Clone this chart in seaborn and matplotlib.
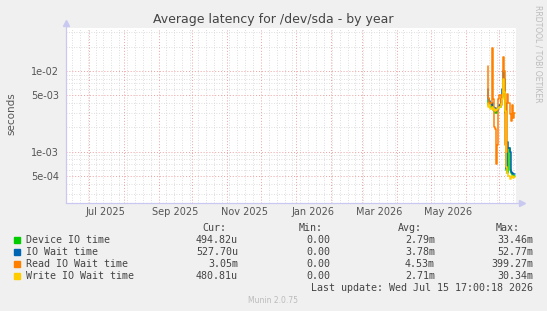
import numpy as np
import pandas as pd
import matplotlib
matplotlib.use("Agg")
import matplotlib.pyplot as plt
import matplotlib.dates as mdates
from matplotlib.patches import Rectangle
import seaborn as sns

# daily samples (seconds); each value covers the day ending at its timestamp
days = pd.date_range("2026-06-21", "2026-07-15", freq="D")
device_io = [4.3e-3, 3.8e-3, 4.0e-3, 3.6e-3, 3.7e-3, 3.3e-3, 3.2e-3, 3.0e-3, 3.0e-3,
             3.2e-3, 3.5e-3, 3.6e-3, 4.0e-3, 4.8e-3, 6.5e-3, 5.0e-3, 3.0e-3, 6.0e-4,
             5.5e-4, 1.1e-3, 6.0e-4, 5.4e-4, 5.2e-4, 5.0e-4, 4.95e-4]
io_wait = [6.0e-3, 4.5e-3, 4.2e-3, 3.8e-3, 4.0e-3, 3.6e-3, 3.4e-3, 3.5e-3, 3.2e-3,
           3.3e-3, 3.6e-3, 3.8e-3, 4.5e-3, 6.0e-3, 1.0e-2, 8.0e-3, 4.0e-3, 6.2e-4,
           1.3e-3, 1.1e-3, 1.0e-3, 5.6e-4, 5.5e-4, 5.3e-4, 5.28e-4]
read_wait = [1.15e-2, 4.6e-3, 3.8e-3, 4.0e-3, 1.9e-2, 4.5e-3, 2.0e-3, 1.9e-3, 7.0e-4,
             1.2e-3, 4.5e-3, 5.0e-3, 3.8e-3, 5.0e-3, 1.5e-2, 1.0e-2, 1.2e-3, 1.0e-3,
             5.2e-3, 4.0e-3, 2.9e-3, 2.4e-3, 3.8e-3, 2.6e-3, 3.05e-3]
write_wait = [4.0e-3, 3.6e-3, 3.8e-3, 3.4e-3, 3.6e-3, 3.3e-3, 3.4e-3, 3.2e-3, 3.3e-3,
              3.4e-3, 3.5e-3, 3.6e-3, 3.9e-3, 4.5e-3, 8.0e-3, 5.5e-3, 3.2e-3, 6.5e-4,
              5.5e-4, 5.0e-4, 4.6e-4, 4.8e-4, 5.0e-4, 4.7e-4, 4.81e-4]

series = ["Device IO time", "IO Wait time", "Read IO Wait time", "Write IO Wait time"]
colors = ["#00CC00", "#0066B3", "#FF8000", "#FFCC00"]
cur = ["494.82u", "527.70u", "3.05m", "480.81u"]
mins = ["0.00", "0.00", "0.00", "0.00"]
avg = ["2.79m", "3.78m", "4.53m", "2.71m"]
mx = ["33.46m", "52.77m", "399.27m", "30.34m"]

month_labels = ["Jul 2025", "Sep 2025", "Nov 2025", "Jan 2026", "Mar 2026", "May 2026"]
month_label_pos = ["2025-07-16", "2025-09-16", "2025-11-16", "2026-01-16", "2026-03-16", "2026-05-16"]
ytick_vals = [5e-4, 1e-3, 5e-3, 1e-2]
ytick_labels = ["5e-04", "1e-03", "5e-03", "1e-02"]

df = pd.DataFrame({
    "time": list(days) * 4,
    "value": device_io + io_wait + read_wait + write_wait,
    "series": np.repeat(series, len(days)),
})

sns.set_style("white")
plt.rcParams["font.family"] = ["DejaVu Sans"]

W, H = 547, 311
fig = plt.figure(figsize=(5.47, 3.11), dpi=100, facecolor="#F0F0F0")
ax = fig.add_axes([66 / W, 1 - 203 / H, 450 / W, 175 / H])
ax.set_facecolor("white")

end = pd.Timestamp("2026-07-15 17:00")
start = end - pd.Timedelta(days=400)

ax.set_yscale("log")
ax.set_xlim(start, end)
ax.set_ylim(2.31e-4, 0.034)

# grid: weekly / minor-log gray dots, monthly / labelled red dashes
ax.xaxis.set_major_locator(mdates.MonthLocator(bymonthday=1))
ax.xaxis.set_minor_locator(mdates.WeekdayLocator(byweekday=mdates.MO))
ax.set_xticklabels([])
ax.yaxis.set_major_locator(matplotlib.ticker.FixedLocator(ytick_vals))
minor_y = [m * 10.0 ** e for e in (-4, -3, -2) for m in range(2, 10)]
minor_y = [v for v in minor_y if v not in ytick_vals and 2.31e-4 < v < 0.034]
ax.yaxis.set_minor_locator(matplotlib.ticker.FixedLocator(minor_y))
ax.yaxis.set_minor_formatter(matplotlib.ticker.NullFormatter())
ax.set_yticklabels(ytick_labels)
ax.grid(which="minor", color="#D4D4D4", linestyle=(0, (1, 2)), linewidth=0.6)
ax.grid(which="major", color="#EFA0A0", linestyle=(0, (1, 2)), linewidth=0.7)
ax.tick_params(axis="x", which="both", length=0)
ax.tick_params(axis="y", which="major", length=3, color="#C8C8F0", labelsize=7,
               labelcolor="#555555", pad=2)
ax.tick_params(axis="y", which="minor", length=2, color="#C8C8F0")

sns.lineplot(data=df, x="time", y="value", hue="series", palette=colors,
             drawstyle="steps-pre", linewidth=1.1, legend=False, ax=ax)
ax.set_xlabel("")
ax.set_ylabel("")
fig.text(11 / W, 1 - 114 / H, "seconds", rotation=90, ha="center", va="center",
         fontsize=7.5, color="#555555")

for lab, pos in zip(month_labels, month_label_pos):
    ax.text(pd.Timestamp(pos), -0.05, lab, transform=ax.get_xaxis_transform(),
            ha="center", va="center", fontsize=7, color="#555555")

for s in ["top", "right"]:
    ax.spines[s].set_visible(False)
for s in ["left", "bottom"]:
    ax.spines[s].set_color("#C8C8F0")
ax.plot([0, 0], [0, 1.03], transform=ax.transAxes, color="#C8C8F0", lw=0.8, clip_on=False)
ax.plot([0], [1.03], marker="^", ms=4, color="#C8C8F0", transform=ax.transAxes, clip_on=False)
ax.plot([0, 1.013], [0, 0], transform=ax.transAxes, color="#C8C8F0", lw=0.8, clip_on=False)
ax.plot([1.013], [0], marker=">", ms=4, color="#C8C8F0", transform=ax.transAxes, clip_on=False)

fig.text(273 / W, 1 - 19.5 / H, "Average latency for /dev/sda - by year",
         ha="center", va="center", fontsize=9, color="#444444")
fig.text(538 / W, 1 - 5 / H, "RRDTOOL / TOBI OETIKER", rotation=270,
         ha="center", va="top", fontsize=5.5, color="#BBBBBB")

mono = {"family": "DejaVu Sans Mono", "size": 7.2, "color": "#444444"}
hy = 228.3
fig.text(226 / W, 1 - hy / H, "Cur:", ha="right", va="center", **mono)
fig.text(323 / W, 1 - hy / H, "Min:", ha="right", va="center", **mono)
fig.text(422 / W, 1 - hy / H, "Avg:", ha="right", va="center", **mono)
fig.text(520 / W, 1 - hy / H, "Max:", ha="right", va="center", **mono)
for i, name in enumerate(series):
    y = 239.7 + i * 12
    fig.patches.append(Rectangle((14 / W, 1 - (y + 3) / H), 6 / W, 6 / H,
                                 transform=fig.transFigure, color=colors[i]))
    fig.text(26 / W, 1 - y / H, name, ha="left", va="center", **mono)
    fig.text(238 / W, 1 - y / H, cur[i], ha="right", va="center", **mono)
    fig.text(330 / W, 1 - y / H, mins[i], ha="right", va="center", **mono)
    fig.text(435 / W, 1 - y / H, avg[i], ha="right", va="center", **mono)
    fig.text(533 / W, 1 - y / H, mx[i], ha="right", va="center", **mono)
fig.text(533 / W, 1 - 287.7 / H, "Last update: Wed Jul 15 17:00:18 2026",
         ha="right", va="center", **mono)
fig.text(273 / W, 1 - 300.3 / H, "Munin 2.0.75", ha="center", va="center",
         fontsize=5.5, color="#BBBBBB")

fig.savefig("out.png", dpi=100, facecolor=fig.get_facecolor())
